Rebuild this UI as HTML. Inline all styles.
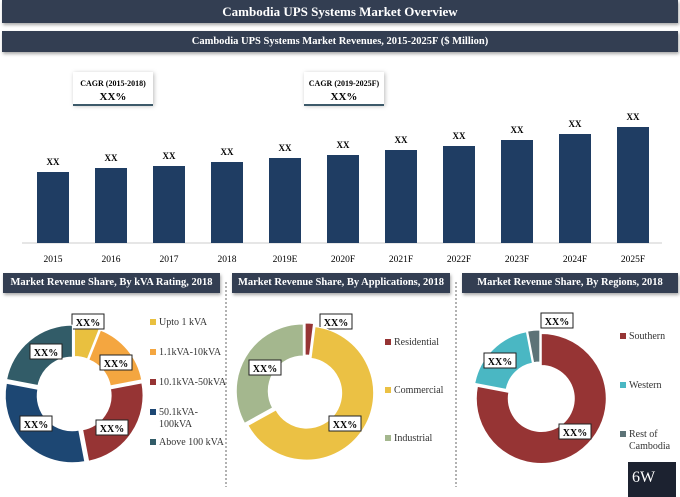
<!DOCTYPE html>
<html><head><meta charset="utf-8"><style>
body{margin:0;width:680px;height:497px;background:#fff;overflow:hidden;font-family:"Liberation Serif",serif;}
.bar{position:absolute;background:#333e52;color:#fff;font-weight:bold;text-align:center;box-shadow:1px 2px 3px #aaa;}
</style></head><body>
<div class="bar" style="left:2px;top:0;width:676px;height:23px;line-height:23px;font-size:13px">Cambodia UPS Systems Market Overview</div>
<div class="bar" style="left:2px;top:31px;width:676px;height:21px;line-height:21px;font-size:10.5px">Cambodia UPS Systems Market Revenues, 2015-2025F ($ Million)</div>
<div class="bar" style="left:3px;top:273px;width:217px;height:20px;line-height:20px;font-size:10.5px">Market Revenue Share, By kVA Rating, 2018</div>
<div class="bar" style="left:232px;top:273px;width:218px;height:20px;line-height:20px;font-size:10.5px">Market Revenue Share, By Applications, 2018</div>
<div class="bar" style="left:462px;top:273px;width:216px;height:20px;line-height:20px;font-size:10.5px">Market Revenue Share, By Regions, 2018</div>
<svg id="c" width="680" height="497" style="position:absolute;left:0;top:0" font-family="Liberation Serif, serif">
<line x1="226" y1="282" x2="226" y2="487" stroke="#666" stroke-dasharray="2,2"/>
<line x1="456" y1="282" x2="456" y2="487" stroke="#666" stroke-dasharray="2,2"/>
<g>
<rect x="73" y="72" width="80" height="33" fill="#fff" style="filter:drop-shadow(1px 1px 2px #bbb)"/>
<line x1="73" y1="105" x2="153" y2="105" stroke="#3d5a6a" stroke-width="2"/>
<text x="113" y="86" font-size="8" text-anchor="middle" font-weight="bold">CAGR (2015-2018)</text>
<text x="113" y="100" font-size="11" text-anchor="middle" font-weight="bold">XX%</text></g>
<g>
<rect x="304" y="72" width="80" height="33" fill="#fff" style="filter:drop-shadow(1px 1px 2px #bbb)"/>
<line x1="304" y1="105" x2="384" y2="105" stroke="#3d5a6a" stroke-width="2"/>
<text x="344" y="86" font-size="8" text-anchor="middle" font-weight="bold">CAGR (2019-2025F)</text>
<text x="344" y="100" font-size="11" text-anchor="middle" font-weight="bold">XX%</text></g>
<line x1="22" y1="243" x2="662" y2="243" stroke="#ccc"/>
<rect x="628" y="462" width="48" height="35" fill="#1c2230"/>
<text x="632" y="482" font-size="16" fill="#fff">6W</text>
</svg>
<script>
const years=["2015","2016","2017","2018","2019E","2020F","2021F","2022F","2023F","2024F","2025F"];
const revenue=[71,75,77,81,85,88,93,97,103,109,116];
const kvaLabels=["Upto 1 kVA","1.1kVA-10kVA","10.1kVA-50kVA","50.1kVA-100kVA","Above 100 kVA"];
const kvaShares=[6,16,25,31,22];
const appLabels=["Residential","Commercial","Industrial"];
const appShares=[2,65,33];
const regLabels=["Southern","Western","Rest of Cambodia"];
const regShares=[78,19,3];
const NS="http://www.w3.org/2000/svg";
const svg=document.getElementById('c');
function mk(t,a,p){const e=document.createElementNS(NS,t);for(const k in a)e.setAttribute(k,a[k]);(p||svg).appendChild(e);return e;}
const base=243, scale=1.0;
const xc=i=>53+i*58, yv=v=>base-v*scale;
years.forEach((y,i)=>{
 const r=mk('rect',{x:xc(i)-16,y:yv(revenue[i]),width:32,height:base-yv(revenue[i]),fill:'#1f3d63'});
 
 
 const t=mk('text',{x:xc(i),y:yv(revenue[i])-7,'font-size':9,'font-weight':'bold','text-anchor':'middle'});t.textContent='XX';
 
 
 const l=mk('text',{x:xc(i),y:262,'font-size':9.5,'text-anchor':'middle'});l.textContent=y;
 
 
});
function donut(name,cx,cy,ro,ri,vals,cols,labs,explode,lblPos,legX,legY,legGap){
 const tot=vals.reduce((a,b)=>a+b,0);let a0=0;
 vals.forEach((v,i)=>{
  const a1=a0+v/tot*2*Math.PI,mid=(a0+a1)/2,dx=explode*Math.sin(mid),dy=-explode*Math.cos(mid);
  const p=(r,a)=>[cx+dx+r*Math.sin(a),cy+dy-r*Math.cos(a)];
  const large=(a1-a0)>Math.PI?1:0;
  const [x1,y1]=p(ro,a0),[x2,y2]=p(ro,a1),[x3,y3]=p(ri,a1),[x4,y4]=p(ri,a0);
  const s=mk('path',{d:`M${x1},${y1}A${ro},${ro} 0 ${large} 1 ${x2},${y2}L${x3},${y3}A${ri},${ri} 0 ${large} 0 ${x4},${y4}Z`,fill:cols[i],stroke:'#fff','stroke-width':1});
  
  
  if(lblPos[i]){const [lx,ly]=lblPos[i];
   mk('rect',{x:lx-16,y:ly-8,width:32,height:15,fill:'#fff',stroke:'#222','stroke-width':1});
   const t=mk('text',{x:lx,y:ly+4,'font-size':10,'font-weight':'bold','text-anchor':'middle'});t.textContent='XX%';
   
   }
  a0=a1;
 });
 labs.forEach((l,i)=>{
  const y=legY+i*legGap;
  mk('rect',{x:legX,y:y-6,width:6,height:6,fill:cols[i]});
  const parts=l==='50.1kVA-100kVA'?['50.1kVA-','100kVA']:(l==='Rest of Cambodia'?['Rest of','Cambodia']:[l]);
  parts.forEach((pt,j)=>{const t=mk('text',{x:legX+9,y:y+j*12,'font-size':10,fill:'#333'});t.textContent=pt;
   
   });
 });
}
donut('kva',74,394,67,35,kvaShares,['#e9c03f','#f4a640','#963434','#1d4773','#325c68'],kvaLabels,2.5,
 [[88,322],[116,363],[112,428],[36,424],[46,352]],150,325,30);
donut('applications',305,392,67,35,appShares,['#963434','#ebc144','#a4b78e'],appLabels,2,
 [[336,322],[345,424],null],385,345,48);
(function(){mk('rect',{x:249,y:360,width:32,height:15,fill:'#fff',stroke:'#222'});const t=mk('text',{x:265,y:372,'font-size':10,'font-weight':'bold','text-anchor':'middle'});t.textContent='XX%';

})();
donut('regions',540,397,65,33,regShares,['#963434','#4ab7c3','#5d7377'],regLabels,2,
 [[575,432],[500,361],[557,321]],620,339,49);
</script>
</body></html>
